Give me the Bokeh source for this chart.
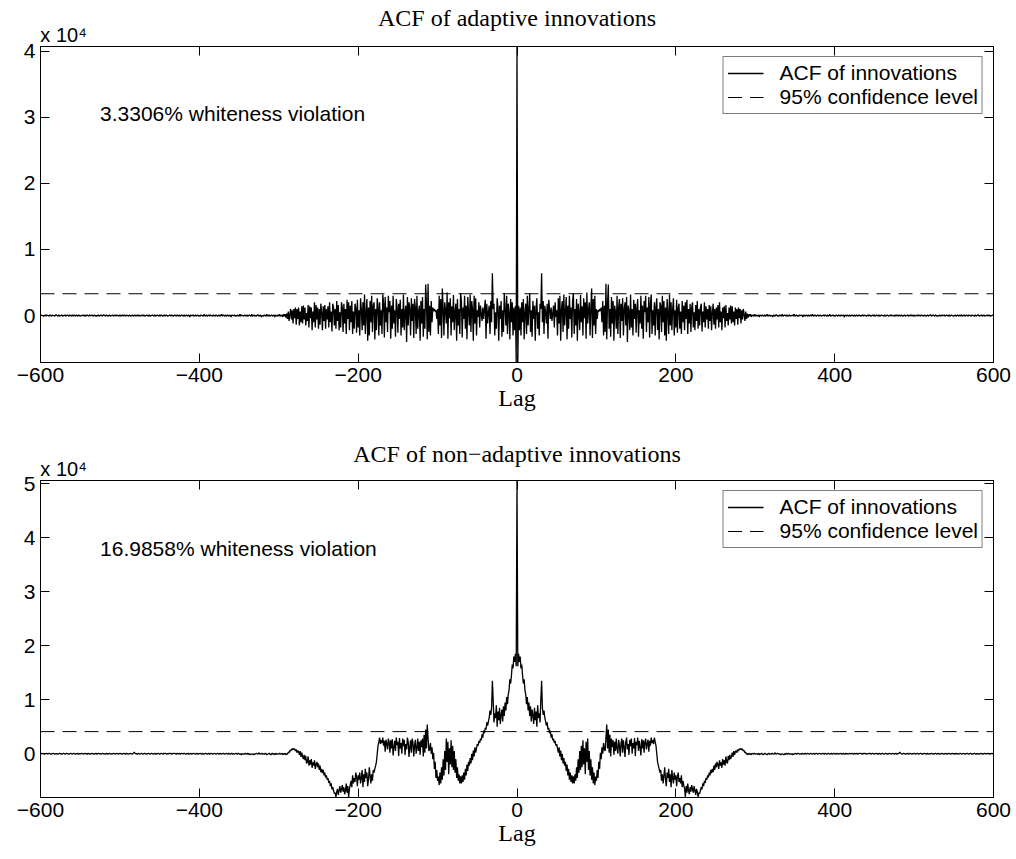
from bokeh.plotting import figure
from bokeh.models import Range1d, FixedTicker, LinearAxis, Legend, LegendItem, Label
from bokeh.layouts import column
from bokeh.embed import file_html
from bokeh.resources import INLINE

# ---------------- data (ACF values in units of 10^4) ----------------
# ACF is symmetric in lag: values given for lags 0..300 (core) and 301..600 (tail, in 1/100 of 10^4)
TOP_TITLE = "ACF of adaptive innovations"
BOT_TITLE = "ACF of non\u2212adaptive innovations"
X_LABEL = "Lag"
Y_SCALE_LABEL = "x 10\u2074"
TOP_NOTE = "3.3306% whiteness violation"
BOT_NOTE = "16.9858% whiteness violation"
LEGEND_LABELS = ["ACF of innovations", "95% confidence level"]

TOP_CONF = 0.33
BOT_CONF = 0.41

X_TICKS = [-600, -400, -200, 0, 200, 400, 600]
X_TICK_LABELS = ["\u2212600", "\u2212400", "\u2212200", "0", "200", "400", "600"]
TOP_Y_TICKS = [0, 1, 2, 3, 4]
BOT_Y_TICKS = [0, 1, 2, 3, 4, 5]

TOP_CORE = [4.07,
 -0.71, 0.15, -0.22, 0.12, -0.30, 0.20, -0.10, 0.25, -0.36, 0.05,
 0.18, -0.28, 0.30, -0.15, 0.10, 0.34, -0.25, 0.08, -0.32, 0.22,
 -0.05, 0.15, -0.38, 0.12, 0.26, -0.20, 0.05, -0.30, 0.18, 0.10,
 0.64, -0.10, 0.22, -0.28, 0.15, 0.05, -0.12, 0.18, -0.35, 0.24,
 0.10, -0.05, 0.12, -0.08, 0.03, 0.15, -0.18, 0.20, -0.02, 0.08,
 -0.30, 0.26, -0.12, 0.30, -0.38, 0.10, 0.22, -0.25, 0.32, -0.15,
 0.05, 0.28, -0.36, 0.15, -0.20, 0.30, -0.05, 0.12, -0.33, 0.22,
 0.34, -0.28, 0.10, -0.15, 0.25, -0.38, 0.18, 0.05, -0.22, 0.31,
 -0.10, 0.14, -0.30, 0.26, -0.04, 0.20, -0.35, 0.35, -0.12, 0.08,
 0.20, -0.30, 0.12, 0.41, -0.34, 0.25, -0.15, 0.30, -0.28, 0.10,
 -0.05, 0.08, 0.06, 0.10, 0.07, 0.12, -0.10, 0.22, -0.30, 0.15,
 -0.25, 0.48, -0.36, 0.18, 0.47, -0.20, 0.10, -0.32, 0.28, -0.12,
 0.22, -0.38, 0.15, 0.05, -0.20, 0.30, -0.28, 0.12, 0.25, -0.34,
 0.18, -0.08, 0.26, -0.30, 0.10, 0.20, -0.15, 0.28, -0.40, 0.15,
 0.06, -0.22, 0.32, -0.18, 0.10, -0.30, 0.24, -0.05, 0.18, -0.26,
 0.12, 0.25, -0.32, 0.08, -0.12, 0.30, -0.20, 0.15, -0.35, 0.22,
 0.05, 0.30, -0.25, 0.12, -0.10, 0.28, -0.33, 0.18, 0.32, -0.28,
 0.08, -0.15, 0.20, -0.30, 0.14, 0.26, -0.22, 0.10, -0.36, 0.20,
 0.15, -0.25, 0.30, -0.10, 0.22, -0.30, 0.12, -0.38, 0.25, 0.05,
 -0.28, 0.32, -0.15, 0.20, -0.22, 0.10, 0.26, -0.30, 0.08, -0.18,
 0.24, -0.26, 0.12, 0.18, -0.20, 0.06, -0.28, 0.22, -0.10, 0.15,
 -0.22, 0.20, -0.05, 0.24, -0.28, 0.10, -0.12, 0.18, -0.25, 0.12,
 0.20, -0.18, 0.05, -0.22, 0.16, -0.08, 0.22, -0.20, 0.10, -0.15,
 0.12, 0.18, -0.24, 0.06, -0.10, 0.20, -0.18, 0.14, -0.06, 0.10,
 -0.20, 0.16, -0.08, 0.14, -0.22, 0.05, 0.18, -0.14, 0.10, -0.20,
 0.12, -0.06, 0.16, -0.18, 0.20, -0.10, 0.06, -0.22, 0.12, -0.04,
 0.14, -0.18, 0.16, -0.08, 0.04, -0.15, 0.12, -0.06, 0.15, -0.12,
 0.14, -0.10, 0.06, -0.15, 0.12, -0.05, 0.10, -0.14, 0.12, -0.04,
 0.10, -0.12, 0.08, -0.06, 0.10, 0.02, -0.08, 0.06, -0.05, 0.03,
 -0.03, 0.02, -0.01, 0.02, -0.02, 0.01, 0.00, -0.01, 0.02, -0.01]

TOP_TAIL = [
 1, -1, 0, 1, -2, 1, 0, -1, 1, 0,
 -1, 1, -1, 0, 2, -1, 0, 1, -1, 0,
 0, -2, 1, 0, -1, 1, 1, -1, 0, -1,
 1, 0, -1, 2, -1, 0, 1, 0, -1, 1,
 -1, 0, 1, -1, 0, 0, 1, -1, 2, -1,
 0, 1, -1, 0, -1, 1, 0, 0, 1, -2,
 1, 0, -1, 1, 0, -1, 1, -1, 0, 1,
 -1, 2, 0, -1, 1, 0, -1, 0, 1, -1,
 0, 1, -1, 0, 0, 1, -1, 1, 0, -1,
 1, -1, 0, 2, -1, 0, 0, 1, -1, 0,
 -1, 1, 0, -1, 1, 0, -1, 1, 0, 0,
 1, -2, 1, 0, -1, 1, 0, -1, 1, -1,
 0, 1, 0, -1, 1, -1, 0, 1, -1, 0,
 1, 0, -1, 0, 1, -1, 1, 0, 0, -1,
 0, 1, -1, 1, 0, -1, 0, 1, -1, 1,
 -1, 0, 1, 0, -1, 1, -1, 0, 1, 0,
 0, -1, 1, -1, 0, 1, 0, -1, 0, 1,
 -1, 1, 0, 0, -1, 1, -1, 1, 0, -1,
 1, 0, -1, 1, 0, -1, 0, 1, -1, 0,
 0, 1, -1, 0, 1, -1, 1, 0, -1, 1,
 -1, 0, 0, 1, -1, 1, 0, -1, 1, 0,
 0, -1, 1, 0, -1, 0, 1, -1, 0, 1,
 1, -1, 0, 1, 0, -1, 1, 0, -1, 0,
 -1, 1, 0, -1, 1, 0, 0, 1, -1, 0,
 1, 0, -1, 1, -1, 0, 1, 0, 0, -1,
 0, 1, -1, 0, 1, -1, 0, 1, -1, 1,
 -1, 0, 1, -1, 0, 1, 0, -1, 1, 0,
 0, -1, 1, 0, 0, -1, 1, -1, 0, 1,
 1, -1, 0, 0, 1, -1, 0, 1, -1, 0,
 0, 1, -1, 1, 0, -1, 0, 0, 1, 0]

BOT_CORE = [5.06,
 1.62, 1.85, 1.70, 1.80, 1.58, 1.65, 1.45, 1.30, 1.38, 1.18,
 1.10, 0.92, 1.05, 0.80, 0.95, 0.70, 0.88, 0.60, 0.82, 0.72,
 0.55, 0.85, 0.62, 0.78, 0.50, 0.90, 0.66, 0.75, 0.58, 1.00,
 1.35, 0.85, 0.72, 0.80, 0.67, 0.60, 0.52, 0.58, 0.45, 0.48,
 0.38, 0.43, 0.30, 0.36, 0.25, 0.28, 0.20, 0.24, 0.15, 0.18,
 0.10, 0.02, 0.12, -0.05, 0.06, -0.12, 0.00, -0.18, -0.08, -0.22,
 -0.15, -0.32, -0.20, -0.40, -0.28, -0.48, -0.35, -0.52, -0.40, -0.55,
 -0.42, -0.55, -0.38, -0.50, -0.25, -0.45, -0.10, -0.35, 0.05, -0.30,
 0.15, -0.25, 0.25, -0.20, 0.10, -0.38, 0.22, -0.15, 0.28, -0.30,
 0.05, -0.40, -0.10, -0.48, -0.25, -0.55, -0.35, -0.58, -0.42, -0.50,
 -0.30, -0.45, -0.15, -0.28, 0.02, -0.10, 0.12, 0.00, 0.20, 0.08,
 0.05, 0.30, 0.54, 0.10, 0.45, 0.02, 0.35, -0.05, 0.28, 0.12,
 0.25, -0.02, 0.22, 0.05, 0.28, 0.10, 0.00, 0.26, 0.15, -0.05,
 0.20, 0.28, 0.02, 0.25, 0.12, -0.06, 0.22, 0.30, 0.08, 0.18,
 -0.02, 0.26, 0.14, 0.28, 0.00, 0.20, 0.10, 0.29, -0.04, 0.22,
 0.16, 0.30, 0.05, 0.24, 0.12, -0.03, 0.27, 0.10, 0.25, 0.02,
 0.22, 0.28, 0.08, 0.18, 0.26, 0.04, 0.24, 0.15, 0.30, 0.20,
 0.25, 0.18, 0.30, 0.22, 0.15, 0.00, -0.15, -0.22, -0.28, -0.35,
 -0.30, -0.50, -0.38, -0.55, -0.40, -0.25, -0.48, -0.60, -0.35, -0.45,
 -0.28, -0.52, -0.38, -0.62, -0.30, -0.45, -0.55, -0.35, -0.48, -0.40,
 -0.60, -0.42, -0.35, -0.52, -0.45, -0.55, -0.40, -0.62, -0.50, -0.58,
 -0.65, -0.80, -0.60, -0.72, -0.55, -0.68, -0.75, -0.62, -0.70, -0.58,
 -0.66, -0.72, -0.60, -0.68, -0.76, -0.65, -0.70, -0.80, -0.72, -0.74,
 -0.68, -0.62, -0.66, -0.55, -0.60, -0.50, -0.54, -0.45, -0.48, -0.40,
 -0.44, -0.35, -0.40, -0.30, -0.36, -0.28, -0.34, -0.22, -0.30, -0.18,
 -0.25, -0.15, -0.20, -0.28, -0.12, -0.22, -0.16, -0.26, -0.10, -0.20,
 -0.12, -0.22, -0.05, -0.15, -0.18, -0.04, -0.12, -0.02, -0.10, -0.05,
 0.02, -0.06, 0.05, -0.02, 0.04, 0.06, 0.02, 0.08, 0.05, 0.09,
 0.08, 0.10, 0.07, 0.09, 0.05, 0.06, 0.02, 0.03, -0.01, 0.00,
 -0.02, 0.01, -0.01, 0.00, -0.02, 0.01, 0.00, -0.01, 0.01, 0.00]

BOT_TAIL = [
 -1, 0, -1, 1, -2, 0, -1, 1, 0, -2,
 -1, 1, 0, -1, -2, 0, 1, -1, 0, -1,
 1, 0, -1, 0, 2, -1, 0, 1, 0, -1,
 0, -2, -1, 0, -1, -2, 0, -1, 1, -1,
 0, 1, -1, 0, -1, 0, -2, 0, -1, 0,
 1, -1, 0, 1, 0, -1, 0, -1, 1, 0,
 -1, 0, 1, -1, 0, 1, 0, -1, 0, 1,
 0, -1, 0, 1, -1, 0, 1, 0, -1, 0,
 1, 0, -1, 0, 1, 0, -1, 1, 0, -1,
 0, 1, 0, -1, 0, 1, -1, 0, 1, 0,
 0, -1, 1, 0, -1, 0, 1, 0, 0, -1,
 1, 0, -1, 1, 0, 0, -1, 0, 1, 0,
 0, 1, 0, -1, 1, 0, 0, 1, -1, 0,
 1, 0, 1, 0, -1, 1, 0, 1, 0, 0,
 -1, 0, 1, 0, 1, -1, 0, 1, 0, -1,
 0, 1, 0, 0, -1, 1, 0, -1, 0, 1,
 0, -1, 0, 1, 0, -1, 0, 0, 1, 0,
 -1, 0, 1, 0, -1, 0, 1, -1, 0, 0,
 1, 3, 1, 0, -1, 0, 1, 0, -1, 0,
 0, 1, -1, 0, 1, 0, -1, 0, 0, 1,
 0, -1, 0, 1, 0, -1, 0, 1, 0, 0,
 -1, 0, 1, 0, 0, -1, 1, 0, -1, 0,
 0, 1, 0, -1, 0, 0, 1, 0, -1, 1,
 0, 0, -1, 0, 1, 0, -1, 0, 0, 1,
 -1, 0, 0, 1, 0, -1, 0, 1, 0, 0,
 0, -1, 1, 0, 0, -1, 0, 1, 0, -1,
 0, 1, 0, -1, 0, 0, 1, 0, -1, 0,
 1, 0, -1, 0, 0, 1, 0, -1, 0, 0,
 0, -1, 0, 1, 0, 0, -1, 0, 1, 0,
 0, 0, 1, 0, -1, 0, 0, 1, 0, 0]


def full_acf(core, tail):
    half = list(core) + [t / 100.0 for t in tail]
    n = len(half) - 1
    vals = half[:0:-1] + half
    lags = list(range(-n, n + 1))
    return lags, vals


SANS = "Liberation Sans"
SERIF = "Liberation Serif"
W = 1016
# the "x 10^4" factor is drawn as a centred axis label; shift its anchor so it starts at the box edge
SCALE_LABEL_SHIFT = 29  # in lag units (~23 px)


def style_axis(ax, ticks, labels=None, show_labels=True):
    ax.ticker = FixedTicker(ticks=ticks, minor_ticks=[])
    ax.axis_line_color = "black"
    ax.major_tick_line_color = "black"
    ax.major_tick_in = 9
    ax.major_tick_out = 0
    ax.minor_tick_in = 0
    ax.minor_tick_out = 0
    if show_labels:
        ax.major_label_text_font = SANS
        ax.major_label_text_font_size = "21px"
        ax.major_label_text_color = "black"
        ax.major_label_standoff = 5
        if labels is not None:
            ax.major_label_overrides = {t: l for t, l in zip(ticks, labels)}
    else:
        ax.major_label_text_font_size = "0px"
        ax.major_label_standoff = 0
        ax.major_label_overrides = {t: "" for t in ticks}


def make_panel(title, core, tail, conf, note, note_xy, yr, yticks, height, top, bottom,
               title_standoff):
    lags, vals = full_acf(core, tail)
    p = figure(width=W, height=height,
               x_range=Range1d(X_TICKS[0], X_TICKS[-1]), y_range=Range1d(*yr),
               output_backend="svg", toolbar_location=None,
               min_border_left=40, min_border_right=23,
               min_border_top=top, min_border_bottom=bottom)
    p.grid.visible = False
    p.outline_line_color = "black"
    p.outline_line_width = 1
    p.background_fill_color = "white"
    p.border_fill_color = "white"
    p.title.text = ""

    style_axis(p.xaxis[0], X_TICKS, X_TICK_LABELS)
    p.xaxis[0].axis_label = X_LABEL
    p.xaxis[0].axis_label_text_font = SERIF
    p.xaxis[0].axis_label_text_font_size = "24px"
    p.xaxis[0].axis_label_text_font_style = "normal"
    p.xaxis[0].axis_label_text_color = "black"
    p.xaxis[0].axis_label_standoff = 0
    style_axis(p.yaxis[0], yticks, [str(t) for t in yticks])

    # top box edge: ticks only
    top_ax = LinearAxis()
    style_axis(top_ax, X_TICKS, show_labels=False)
    p.add_layout(top_ax, "above")

    # header row: "x 10^4" scale factor (as a label) and the panel title (as axis label)
    scale_x = X_TICKS[0] + SCALE_LABEL_SHIFT
    head_ax = LinearAxis()
    head_ax.ticker = FixedTicker(ticks=[scale_x], minor_ticks=[])
    head_ax.major_label_overrides = {scale_x: Y_SCALE_LABEL}
    head_ax.axis_line_color = None
    head_ax.major_tick_line_color = None
    head_ax.minor_tick_line_color = None
    head_ax.major_tick_in = 0
    head_ax.major_tick_out = 0
    head_ax.minor_tick_in = 0
    head_ax.minor_tick_out = 0
    head_ax.major_label_standoff = 1
    head_ax.major_label_text_font = SANS
    head_ax.major_label_text_font_size = "20px"
    head_ax.major_label_text_color = "black"
    head_ax.axis_label = title
    head_ax.axis_label_text_font = SERIF
    head_ax.axis_label_text_font_size = "24px"
    head_ax.axis_label_text_font_style = "normal"
    head_ax.axis_label_text_color = "black"
    head_ax.axis_label_standoff = title_standoff
    p.add_layout(head_ax, "above")

    right_ax = LinearAxis()
    style_axis(right_ax, yticks, show_labels=False)
    p.add_layout(right_ax, "right")

    r1 = p.line(lags, vals, line_color="black", line_width=1.3)
    r2 = p.line([X_TICKS[0], X_TICKS[-1]], [conf, conf], line_color="black",
                line_width=1, line_dash="14 8")

    legend = Legend(items=[LegendItem(label=LEGEND_LABELS[0], renderers=[r1]),
                           LegendItem(label=LEGEND_LABELS[1], renderers=[r2])],
                    location="top_right")
    legend.border_line_color = "black"
    legend.border_line_width = 1
    legend.background_fill_color = "white"
    legend.background_fill_alpha = 1
    legend.margin = 10
    legend.padding = 4
    legend.spacing = 0
    legend.glyph_width = 36
    legend.glyph_height = 18
    legend.label_height = 18
    legend.label_standoff = 16
    legend.label_text_font = SANS
    legend.label_text_font_size = "21px"
    legend.label_text_color = "black"
    p.add_layout(legend)

    p.add_layout(Label(x=note_xy[0], y=note_xy[1], text=note, text_font=SANS,
                       text_font_size="21px", text_color="black",
                       text_align="left", text_baseline="middle"))
    return p


p1 = make_panel(TOP_TITLE, TOP_CORE, TOP_TAIL, TOP_CONF, TOP_NOTE, (-525, 3.06),
                (-0.71, 4.07), TOP_Y_TICKS, 420, 46, 58, -10)
p2 = make_panel(BOT_TITLE, BOT_CORE, BOT_TAIL, BOT_CONF, BOT_NOTE, (-525, 3.80),
                (-0.81, 5.06), BOT_Y_TICKS, 439, 60, 62, -12)

layout = column(p1, p2, spacing=0)
open("out.html", "w").write(file_html(layout, INLINE))
